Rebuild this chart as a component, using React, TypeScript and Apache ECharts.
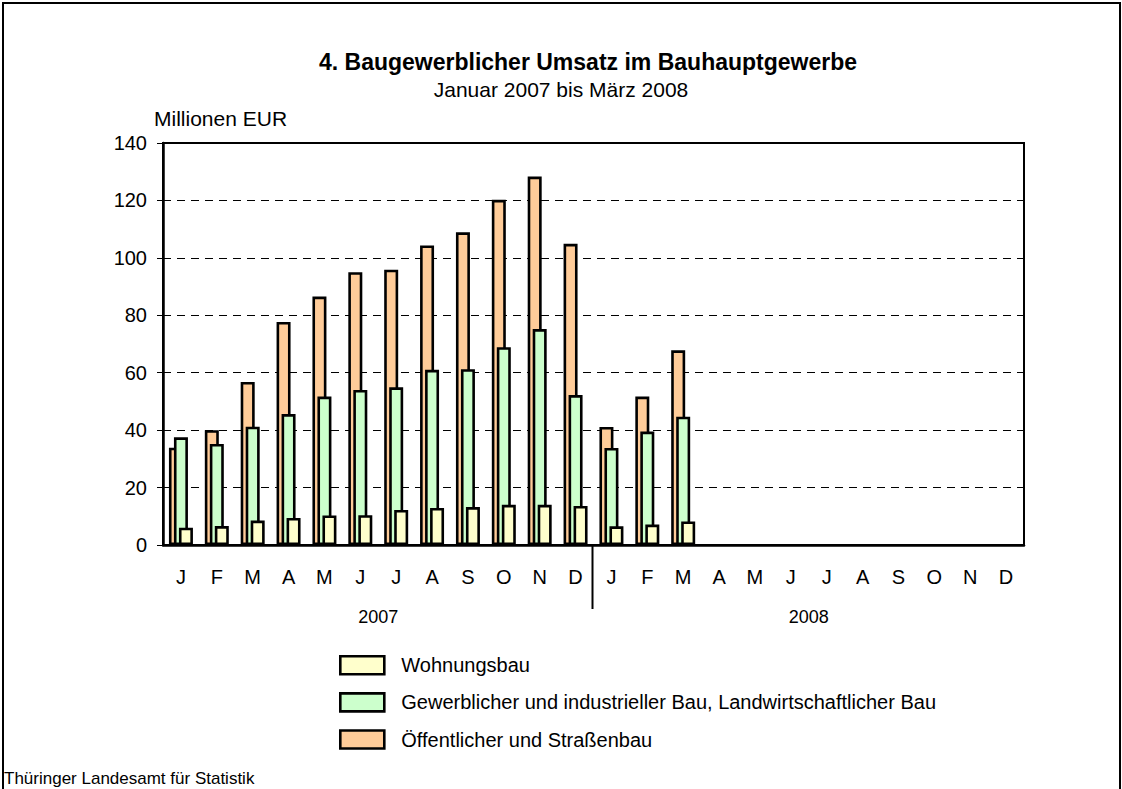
import React, { useEffect, useRef } from "react";
import * as echarts from "echarts";

const months = ["J", "F", "M", "A", "M", "J", "J", "A", "S", "O", "N", "D", "J", "F", "M", "A", "M", "J", "J", "A", "S", "O", "N", "D"];
const years = ["2007", "2008"];
const yTicks = { min: 0, max: 140, interval: 20 };

const seriesNames = [
  "Öffentlicher und Straßenbau",
  "Gewerblicher und industrieller Bau, Landwirtschaftlicher Bau",
  "Wohnungsbau",
];
const legendOrder = [seriesNames[2], seriesNames[1], seriesNames[0]];

const oeffentlich = [33.9, 40.0, 56.8, 77.7, 86.5, 95.0, 95.9, 104.3, 108.9, 120.2, 128.3, 104.9, 41.1, 51.7, 67.8];
const gewerblich = [37.5, 35.2, 41.2, 45.6, 51.7, 54.0, 54.9, 61.0, 61.2, 68.9, 75.2, 52.2, 33.8, 39.5, 44.7];
const wohnungsbau = [6.0, 6.6, 8.5, 9.4, 10.3, 10.4, 12.2, 12.9, 13.2, 14.0, 14.0, 13.6, 6.5, 7.1, 8.2];

const colors = ["#FFCC99", "#CCFFCC", "#FFFFCC"];
const FONT = "'Liberation Sans', Arial, sans-serif";

export default function App() {
  const ref = useRef<HTMLDivElement>(null);
  useEffect(() => {
    if (!ref.current) return;
    const chart = echarts.init(ref.current, null, { renderer: "svg" });
    const gridLeft = 163;
    const gridTop = 143;
    const gridRight = 1122 - 1024;
    const gridBottom = 789 - 545;
    const barStyle = (c: string) => ({ color: c, borderColor: "#000", borderWidth: 2.6 });
    const datasets = [oeffentlich, gewerblich, wohnungsbau];
    const txt = (size: number, weight: string = "normal") => ({
      fontSize: size,
      fontWeight: weight,
      color: "#000",
      fontFamily: FONT,
    });
    chart.setOption({
      animation: false,
      textStyle: { fontFamily: FONT, color: "#000" },
      title: [
        {
          text: "4. Baugewerblicher Umsatz im Bauhauptgewerbe",
          left: 588,
          textAlign: "center",
          top: 50,
          padding: 0,
          textStyle: txt(23, "bold"),
        },
        {
          text: "Januar 2007 bis März 2008",
          left: 561,
          textAlign: "center",
          top: 79,
          padding: 0,
          textStyle: txt(21),
        },
        {
          text: "Millionen EUR",
          left: 154,
          top: 108,
          padding: 0,
          textStyle: txt(21),
        },
        {
          text: "Thüringer Landesamt für Statistik",
          left: 4,
          top: 770,
          padding: 0,
          textStyle: txt(17),
        },
      ],
      legend: {
        orient: "vertical",
        left: 339,
        top: 655,
        padding: 0,
        itemWidth: 44,
        itemHeight: 18,
        itemGap: 16.5,
        icon: "rect",
        data: legendOrder,
        itemStyle: { borderColor: "#000", borderWidth: 2.6 },
        textStyle: { ...txt(20), padding: [0, 0, 0, 12] },
        selectedMode: false,
      },
      grid: {
        left: gridLeft,
        top: gridTop,
        right: gridRight,
        bottom: gridBottom,
        show: true,
        borderColor: "#000",
        borderWidth: 2,
        containLabel: false,
      },
      xAxis: [
        {
          type: "category",
          data: months,
          boundaryGap: true,
          axisLine: { show: true, lineStyle: { color: "#000", width: 2.5 } },
          axisTick: { show: false },
          axisLabel: { interval: 0, ...txt(20), margin: 22 },
          splitLine: { show: false },
        },
        {
          type: "category",
          data: years,
          position: "bottom",
          boundaryGap: true,
          axisLine: { show: false },
          axisTick: { show: false },
          axisLabel: { interval: 0, ...txt(18), margin: 63 },
          splitLine: { show: false },
        },
      ],
      yAxis: {
        type: "value",
        min: yTicks.min,
        max: yTicks.max,
        interval: yTicks.interval,
        axisLine: { show: true, lineStyle: { color: "#000", width: 2.5 } },
        axisTick: { show: true, length: 6, lineStyle: { color: "#000", width: 1 } },
        axisLabel: { ...txt(20), margin: 16 },
        splitLine: { show: true, lineStyle: { color: "#000", width: 1, type: [8, 6] } },
      },
      series: seriesNames.map((name, i) => ({
        name,
        type: "bar",
        xAxisIndex: 0,
        data: datasets[i],
        barWidth: 14,
        barGap: "-64.3%",
        itemStyle: barStyle(colors[i]),
        z: 2 + i,
      })),
    });
    const x11 = chart.convertToPixel({ xAxisIndex: 0 }, 11) as number;
    const x12 = chart.convertToPixel({ xAxisIndex: 0 }, 12) as number;
    const y0 = chart.convertToPixel({ yAxisIndex: 0 }, 0) as number;
    const sepX = Math.round((x11 + x12) / 2) - 1.5;
    chart.setOption({
      graphic: [
        {
          type: "line",
          shape: { x1: sepX, y1: y0, x2: sepX, y2: y0 + 64 },
          style: { stroke: "#000", lineWidth: 2 },
          z: 10,
        },
        {
          type: "rect",
          shape: { x: 3, y: 3, width: 1117, height: 800 },
          style: { fill: "none", stroke: "#000", lineWidth: 2 },
          z: 10,
        },
      ],
    });
    return () => chart.dispose();
  }, []);
  return (
    <div
      ref={ref}
      style={{ position: "fixed", left: 0, top: 0, width: 1122, height: 789, background: "#fff" }}
    />
  );
}
